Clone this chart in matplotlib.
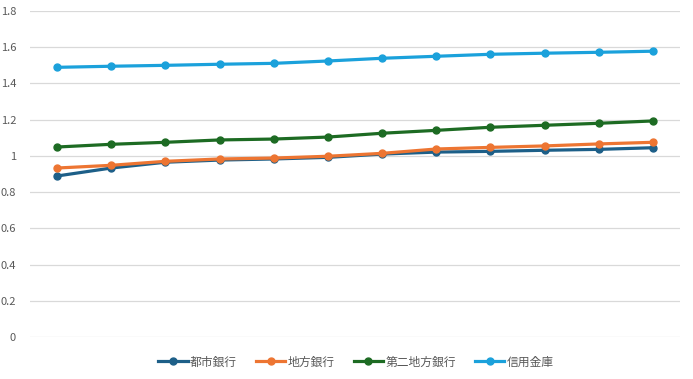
import numpy as np
import matplotlib.pyplot as plt

plt.rcParams['font.family'] = ['Noto Sans CJK JP', 'DejaVu Sans']

# 系列データ
labels = ['都市銀行', '地方銀行', '第二地方銀行', '信用金庫']
toshi = [0.889, 0.933, 0.965, 0.977, 0.983, 0.992, 1.010, 1.021, 1.025, 1.031, 1.036, 1.045]
chiho = [0.933, 0.948, 0.970, 0.983, 0.988, 0.998, 1.014, 1.038, 1.047, 1.055, 1.066, 1.075]
daini = [1.049, 1.064, 1.075, 1.088, 1.093, 1.104, 1.125, 1.141, 1.158, 1.169, 1.180, 1.193]
shinkin = [1.489, 1.495, 1.500, 1.506, 1.511, 1.524, 1.539, 1.550, 1.561, 1.567, 1.572, 1.578]
colors = ['#1d5f88', '#ed7532', '#1d6b23', '#1ba1db']

fig = plt.figure(figsize=(6.93, 3.79), dpi=100)
ax = fig.add_axes([30/693, 1-337/379, 650/693, 326/379])

x = np.arange(len(toshi))
for vals, lab, c in zip([toshi, chiho, daini, shinkin], labels, colors):
    ax.plot(x, vals, color=c, lw=2.3, marker='o', ms=5, label=lab)

ax.set_xlim(-0.5, len(x) - 0.5)
ax.set_ylim(0, 1.8)
ax.set_yticks(np.arange(0, 1.81, 0.2))
ax.set_yticklabels(['0', '0.2', '0.4', '0.6', '0.8', '1', '1.2', '1.4', '1.6', '1.8'])
ax.set_xticks([])
ax.grid(axis='y', color='#d9d9d9', lw=0.9)
ax.set_axisbelow(True)
for s in ax.spines.values():
    s.set_visible(False)
ax.tick_params(axis='y', length=0, labelsize=8, labelcolor='#595959', pad=10)

fig.legend(loc='center', bbox_to_anchor=(356/693, 1-362/379), ncol=4, frameon=False,
           fontsize=8.5, labelcolor='#595959', handlelength=2.5, handletextpad=0.2,
           columnspacing=1.6)

fig.savefig('out.png', dpi=100)
